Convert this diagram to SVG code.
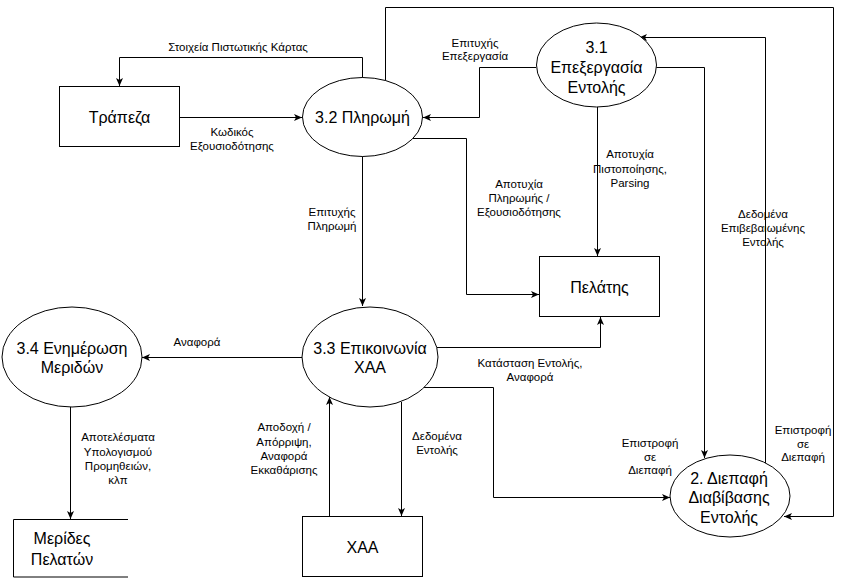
<svg xmlns="http://www.w3.org/2000/svg" width="843" height="579" viewBox="0 0 843 579">
<defs>
<marker id="arr" viewBox="0 0 8 8" refX="8" refY="4" markerWidth="8" markerHeight="8" markerUnits="userSpaceOnUse" orient="auto">
<path d="M0,0.5 L8,4 L0,7.5 L2,4 z" fill="#000"/>
</marker>
<style>
.n{fill:#fff;stroke:#000;stroke-width:1}
.t{font-family:"Liberation Sans",Arial,sans-serif;font-size:16px;fill:#000;text-anchor:middle}
.l{font-family:"Liberation Sans",Arial,sans-serif;font-size:11.5px;fill:#000;text-anchor:middle}
.c{fill:none;stroke:#000;stroke-width:1;marker-end:url(#arr)}
</style>
</defs>
<rect width="843" height="579" fill="#fff"/>
<g id="connectors">
<path class="c" d="M179.5,117.5 H302"/>
<path class="c" d="M362.5,78 V57.5 H119.5 V86"/>
<path class="c" d="M385.5,81 V7.5 H833.5 V516.5 H784"/>
<path class="c" d="M536,67.5 H479.5 V117.5 H423"/>
<path class="c" d="M597.5,107 V256"/>
<path class="c" d="M656,67.5 H704.5 V458"/>
<path class="c" d="M765.5,463 V37.5 H639"/>
<path class="c" d="M413,138.5 H466.5 V294.5 H539"/>
<path class="c" d="M362.5,156 V306"/>
<path class="c" d="M437,347.5 H600.5 V317"/>
<path class="c" d="M302,357.5 H142"/>
<path class="c" d="M424,387.5 H493.5 V497.5 H670"/>
<path class="c" d="M401.5,402 V516"/>
<path class="c" d="M329.5,516 V397"/>
<path class="c" d="M70.5,407 V519"/>
</g>
<g id="labels">
<text class="l" x="238" y="51">Στοιχεία Πιστωτικής Κάρτας</text>
<text class="l" x="232" y="136">Κωδικός</text>
<text class="l" x="232" y="150">Εξουσιοδότησης</text>
<text class="l" x="475" y="47">Επιτυχής</text>
<text class="l" x="475" y="60">Επεξεργασία</text>
<text class="l" x="630" y="158">Αποτυχία</text>
<text class="l" x="630" y="173">Πιστοποίησης,</text>
<text class="l" x="630" y="187">Parsing</text>
<text class="l" x="519" y="188">Αποτυχία</text>
<text class="l" x="519" y="202">Πληρωμής /</text>
<text class="l" x="519" y="216">Εξουσιοδότησης</text>
<text class="l" x="763" y="218">Δεδομένα</text>
<text class="l" x="763" y="232">Επιβεβαιωμένης</text>
<text class="l" x="763" y="246">Εντολής</text>
<text class="l" x="332" y="216">Επιτυχής</text>
<text class="l" x="332" y="230">Πληρωμή</text>
<text class="l" x="197" y="346">Αναφορά</text>
<text class="l" x="530" y="367">Κατάσταση Εντολής,</text>
<text class="l" x="530" y="381">Αναφορά</text>
<text class="l" x="118" y="441">Αποτελέσματα</text>
<text class="l" x="118" y="456">Υπολογισμού</text>
<text class="l" x="118" y="470">Προμηθειών,</text>
<text class="l" x="118" y="484">κλπ</text>
<text class="l" x="284" y="431">Αποδοχή /</text>
<text class="l" x="284" y="446">Απόρριψη,</text>
<text class="l" x="284" y="460">Αναφορά</text>
<text class="l" x="284" y="474">Εκκαθάρισης</text>
<text class="l" x="437" y="440">Δεδομένα</text>
<text class="l" x="437" y="454">Εντολής</text>
<text class="l" x="650" y="447">Επιστροφή</text>
<text class="l" x="650" y="461">σε</text>
<text class="l" x="650" y="474">Διεπαφή</text>
<text class="l" x="803" y="434">Επιστροφή</text>
<text class="l" x="803" y="448">σε</text>
<text class="l" x="803" y="461">Διεπαφή</text>
</g>
<g id="trapeza">
<rect class="n" x="59.5" y="86.5" width="120" height="60"/>
<text class="t" x="119.5" y="123">Τράπεζα</text>
</g>
<g id="p32">
<ellipse class="n" cx="362.5" cy="117" rx="60" ry="39.5"/>
<text class="t" x="362.5" y="123">3.2 Πληρωμή</text>
</g>
<g id="p31">
<ellipse class="n" cx="596.5" cy="65" rx="60" ry="42"/>
<text class="t" x="596.5" y="53">3.1</text>
<text class="t" x="596.5" y="73">Επεξεργασία</text>
<text class="t" x="596.5" y="93">Εντολής</text>
</g>
<g id="pelatis">
<rect class="n" x="539.5" y="256.5" width="120" height="60"/>
<text class="t" x="599.5" y="293">Πελάτης</text>
</g>
<g id="p33">
<ellipse class="n" cx="370" cy="357" rx="68" ry="50"/>
<text class="t" x="370" y="354">3.3 Επικοινωνία</text>
<text class="t" x="370" y="373">ΧΑΑ</text>
</g>
<g id="p34">
<ellipse class="n" cx="72" cy="357" rx="70" ry="50"/>
<text class="t" x="72" y="354">3.4 Ενημέρωση</text>
<text class="t" x="72" y="373">Μεριδών</text>
</g>
<g id="p2">
<ellipse class="n" cx="730" cy="496" rx="60" ry="41"/>
<text class="t" x="729" y="484">2. Διεπαφή</text>
<text class="t" x="729" y="503">Διαβίβασης</text>
<text class="t" x="729" y="523">Εντολής</text>
</g>
<g id="merides">
<rect x="13" y="519.5" width="115" height="57.5" fill="#fff"/>
<path d="M128,519.5 H13.5 V577 H128" fill="none" stroke="#000" stroke-width="1"/>
<text class="t" x="62" y="544">Μερίδες</text>
<text class="t" x="62" y="565">Πελατών</text>
</g>
<g id="xaa">
<rect class="n" x="302.5" y="516.5" width="120" height="60"/>
<text class="t" x="362.5" y="553">ΧΑΑ</text>
</g>
</svg>
